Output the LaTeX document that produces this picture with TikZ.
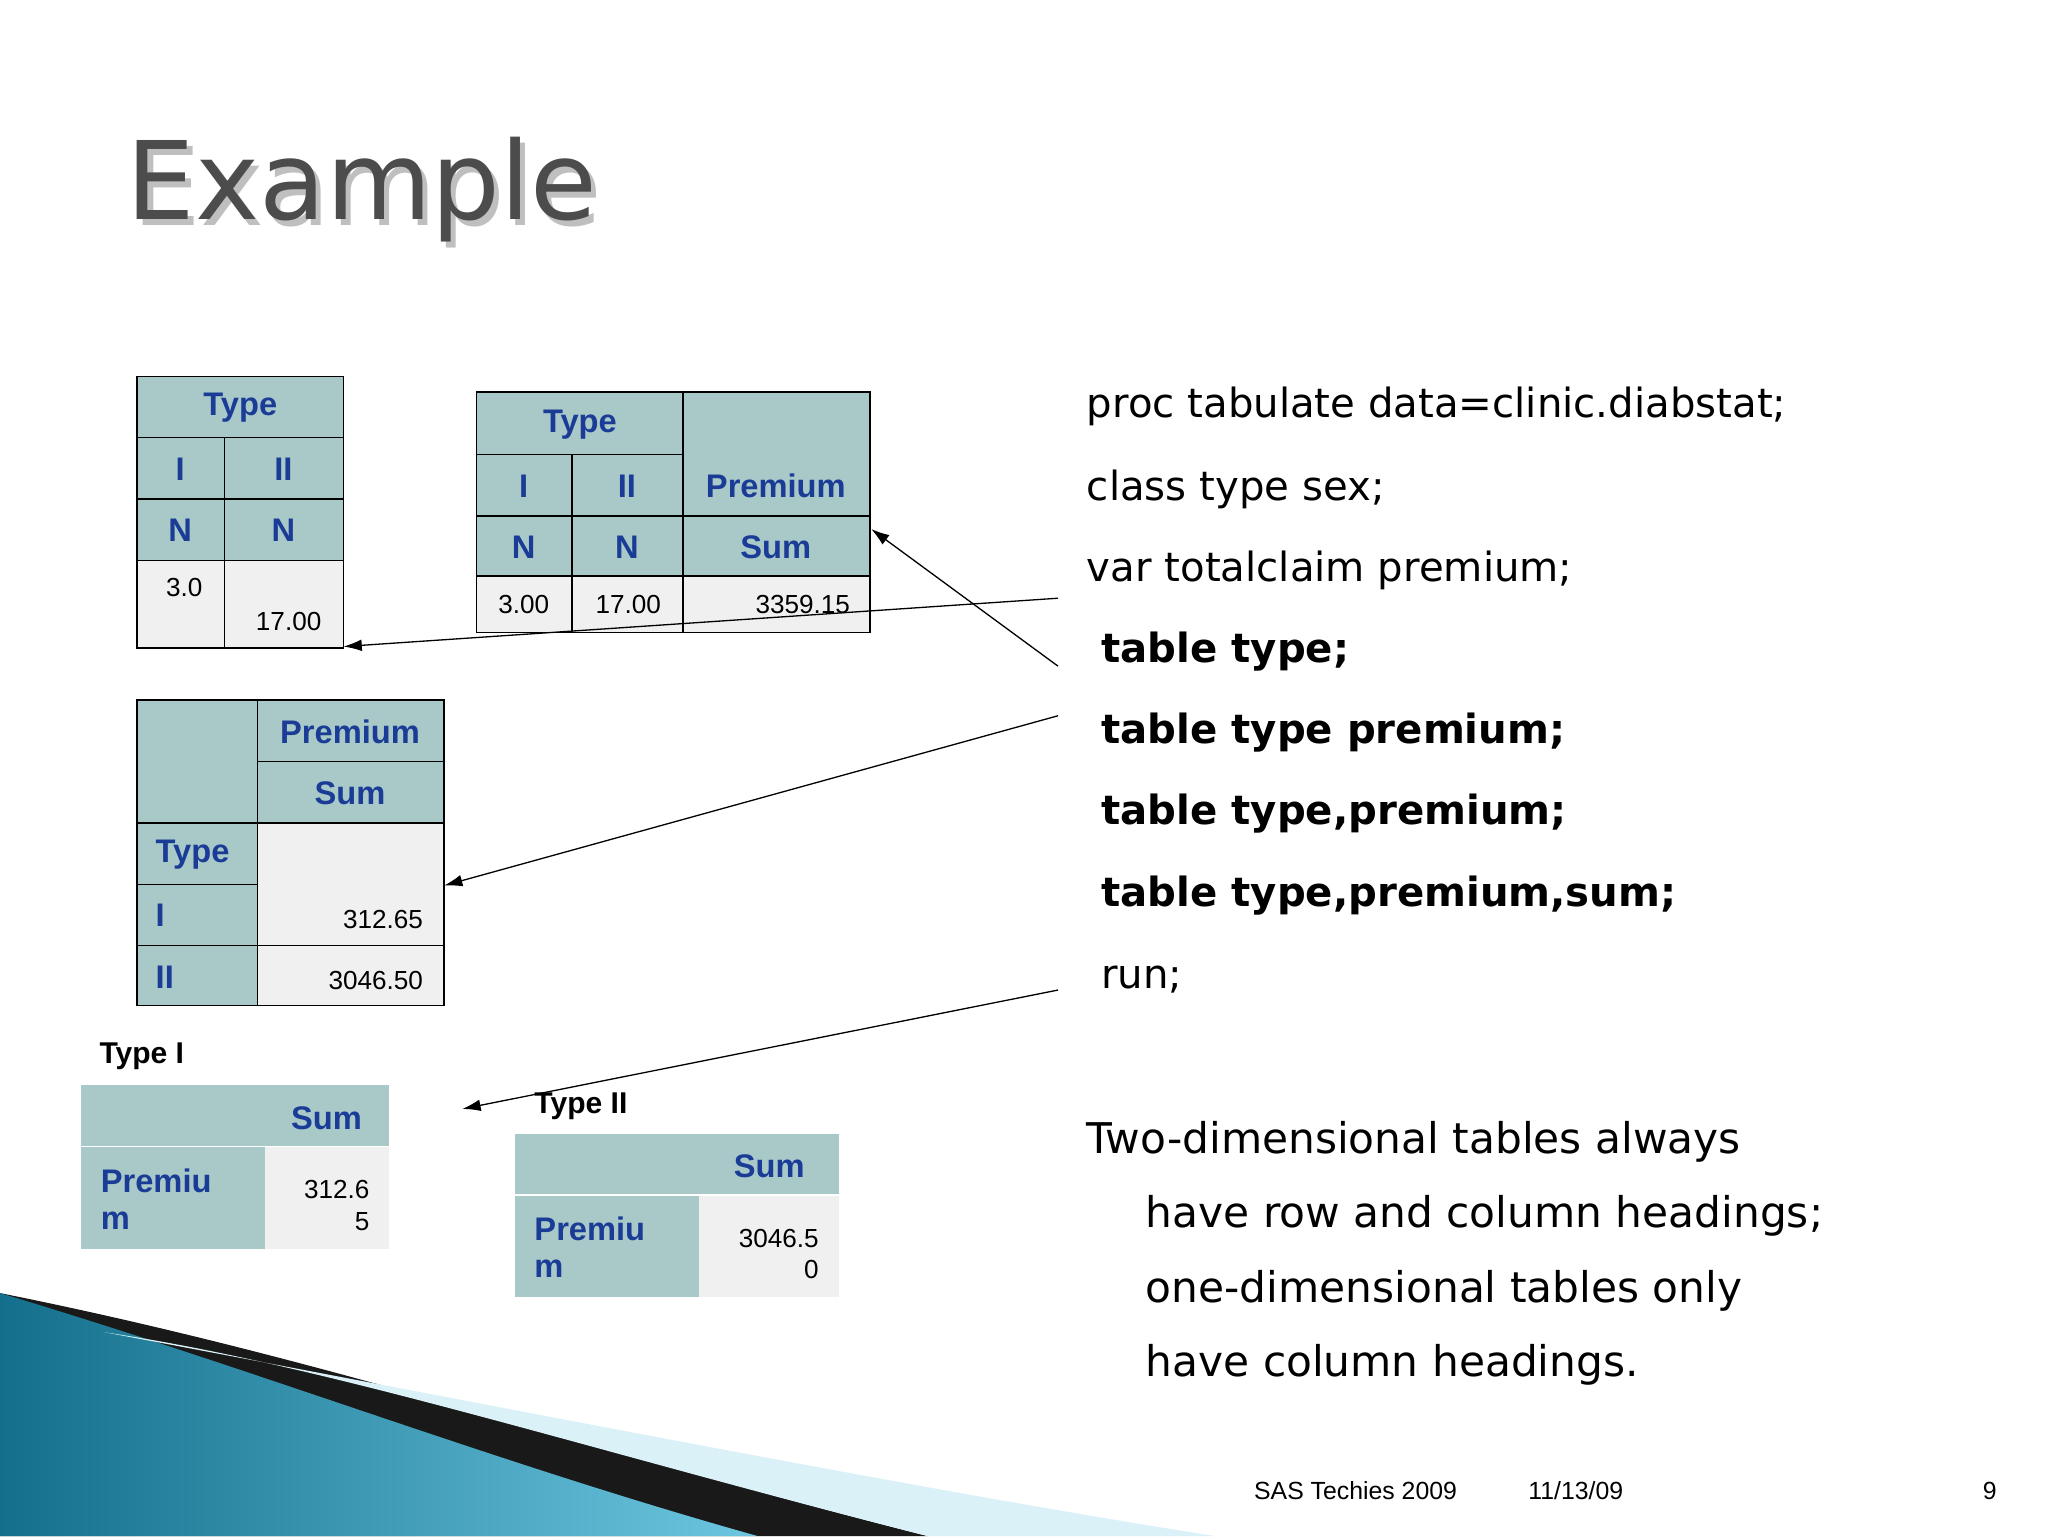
\documentclass[tikz,border=0pt]{standalone}
\usepackage{fontspec}
\setmainfont{DejaVu Sans}
\newfontfamily\arial{Liberation Sans}
\usetikzlibrary{arrows.meta}
\definecolor{hd}{HTML}{A8C9C8}
\definecolor{cl}{HTML}{F0F0F0}
\definecolor{tb}{HTML}{1B3C96}
\definecolor{sw1}{HTML}{136F8C}
\definecolor{sw2}{HTML}{6CC6E0}
\begin{document}
\begin{tikzpicture}[x=1pt,y=-1pt,
  tt/.style={font=\arial\fontsize{25}{28}\selectfont\bfseries,text=tb,inner sep=0},
  dt/.style={font=\arial\fontsize{20}{24}\selectfont,inner sep=0},
  code/.style={anchor=base west,inner sep=0,font=\fontsize{30.8}{36}\selectfont},
  bcode/.style={code,font=\fontsize{30.8}{36}\selectfont\bfseries},
  ptext/.style={code,font=\fontsize{32.4}{38}\selectfont},
  foot/.style={anchor=base west,inner sep=0,font=\arial\fontsize{19}{22}\selectfont},
  arr/.style={-{Latex[length=14pt,width=9pt]},line width=1pt}]
\useasboundingbox (0,0) rectangle (1568,1176);
\fill[white] (0,0) rectangle (1568,1176);
\newcommand\cel[5]{\fill[#5] (#1,#2) rectangle (#3,#4);}
\newcommand\bx[4]{\draw[line width=1pt] (#1,#2) rectangle (#3,#4);}
% swoosh
\fill[black!90] (0,990) .. controls (250,1040) and (450,1110) .. (710,1176) -- (0,1176) -- cycle;
\shade[left color=sw1,right color=sw2] (0,990) .. controls (200,1050) and (380,1120) .. (580,1176) -- (0,1176) -- cycle;
\fill[sw2!25] (80,1020) .. controls (400,1080) and (700,1140) .. (930,1176) -- (710,1176) .. controls (450,1110) and (250,1045) .. (80,1020) -- cycle;
% title
\node[anchor=base west,inner sep=0,text=black!25,font=\fontsize{83}{92}\selectfont] at (101,173) {Example};
\node[anchor=base west,inner sep=0,text=black!70,font=\fontsize{83}{92}\selectfont] (title) at (97,168) {Example};
% table 1
\cel{105}{288}{263}{429}{hd}\cel{105}{429}{263}{496}{cl}
\foreach \a/\b/\c/\d in {105/288/263/335,105/335/172/382,172/335/263/382,105/382/172/429,172/382/263/429,105/429/172/496,172/429/263/496}{\bx{\a}{\b}{\c}{\d}}
\node[tt] (t1a) at (184,312) {Type};
\node[tt] (t1b) at (138,359) {I};\node[tt] (t1c) at (217,359) {II};
\node[tt] (t1d) at (138,406) {N};\node[tt] (t1e) at (217,406) {N};
\node[dt] (t1f) at (141,450) {3.0};\node[dt] (t1g) at (221,476) {17.00};
\coordinate (e1) at (263,495);
% table 2
\cel{365}{300}{666}{441}{hd}\cel{365}{441}{666}{484}{cl}
\foreach \a/\b/\c/\d in {365/300/523/348,365/348/438/395,438/348/523/395,523/300/666/395,365/395/438/441,438/395/523/441,523/395/666/441,365/441/438/484,438/441/523/484,523/441/666/484}{\bx{\a}{\b}{\c}{\d}}
\node[tt] (t2a) at (444,325) {Type};\node[tt] (t2b) at (594,372) {Premium};
\node[tt] (t2c) at (401,372) {I};\node[tt] (t2d) at (480,372) {II};
\node[tt] (t2e) at (401,419) {N};\node[tt] (t2f) at (480,419) {N};\node[tt] (t2g) at (594,419) {Sum};
\node[dt] (t2h) at (401,463) {3.00};\node[dt] (t2i) at (481,463) {17.00};\node[dt,anchor=east] (t2j) at (651,463) {3359.15};
\coordinate (e2) at (667,405);
% table 3
\cel{105}{536}{340}{630}{hd}\cel{105}{630}{197}{770}{hd}\cel{197}{630}{340}{770}{cl}
\foreach \a/\b/\c/\d in {105/536/197/630,197/536/340/583,197/583/340/630,105/630/197/677,105/677/197/724,105/724/197/770,197/630/340/724,197/724/340/770}{\bx{\a}{\b}{\c}{\d}}
\node[tt] (t3a) at (268,560) {Premium};\node[tt] (t3b) at (268,607) {Sum};
\node[tt,anchor=west] (t3c) at (119,654) {Type};\node[tt,anchor=west] (t3d) at (119,701) {I};\node[tt,anchor=west] (t3e) at (119,748) {II};
\node[dt,anchor=east] (t3f) at (324,704) {312.65};\node[dt,anchor=east] (t3g) at (324,751) {3046.50};
\coordinate (e3) at (340,678);
% table 4
\node[anchor=west,inner sep=0,font=\arial\fontsize{23}{26}\selectfont\bfseries] (l4) at (76,809) {Type I};
\cel{62}{831}{298}{956}{hd}\cel{203}{878}{298}{956}{cl}
\draw[white,line width=1pt] (62,878)--(298,878);
\node[tt] (t4a) at (250,856) {Sum};
\node[tt,anchor=west,align=left] (t4b) at (77,918) {Premiu\\m};
\node[dt,align=right,anchor=east] (t4c) at (283,923) {312.6\\5};
\coordinate (e4) at (354,849);
% table 5
\node[anchor=west,inner sep=0,font=\arial\fontsize{23}{26}\selectfont\bfseries] (l5) at (409,847) {Type II};
\cel{394}{868}{642}{993}{hd}\cel{535}{915}{642}{993}{cl}
\draw[white,line width=1pt] (394,915)--(642,915);
\node[tt] (t5a) at (589,893) {Sum};
\node[tt,anchor=west,align=left] (t5b) at (409,955) {Premiu\\m};
\node[dt,align=right,anchor=east] (t5c) at (627,960) {3046.5\\0};
% code
\node[code] (c1) at (832,320) {proc tabulate data=clinic.diabstat;};
\node[code] (c2) at (832,383) {class type sex;};
\node[code] (c3) at (832,445) {var totalclaim premium;};
\node[bcode] (c4) at (843,507) {table type;};
\node[bcode] (c5) at (843,569) {table type premium;};
\node[bcode] (c6) at (843,631) {table type,premium;};
\node[bcode] (c7) at (843,694) {table type,premium,sum;};
\node[code] (c8) at (843,757) {run;};
\coordinate (s1) at (810,458);\coordinate (s2) at (810,510);
\coordinate (s3) at (810,548);\coordinate (s4) at (810,758);
\draw[arr] (s1)--(e1);\draw[arr] (s2)--(e2);\draw[arr] (s3)--(e3);\draw[arr] (s4)--(e4);
% paragraph
\node[ptext] (p1) at (832,883) {Two-dimensional tables always};
\node[ptext] (p2) at (877,940) {have row and column headings;};
\node[ptext] (p3) at (877,997) {one-dimensional tables only};
\node[ptext] (p4) at (877,1054) {have column headings.};
% footer
\node[foot] (f1) at (960,1148) {SAS Techies 2009};
\node[foot] (f2) at (1170,1148) {11/13/09};
\node[foot] (f3) at (1518,1148) {9};
\end{tikzpicture}
\end{document}
